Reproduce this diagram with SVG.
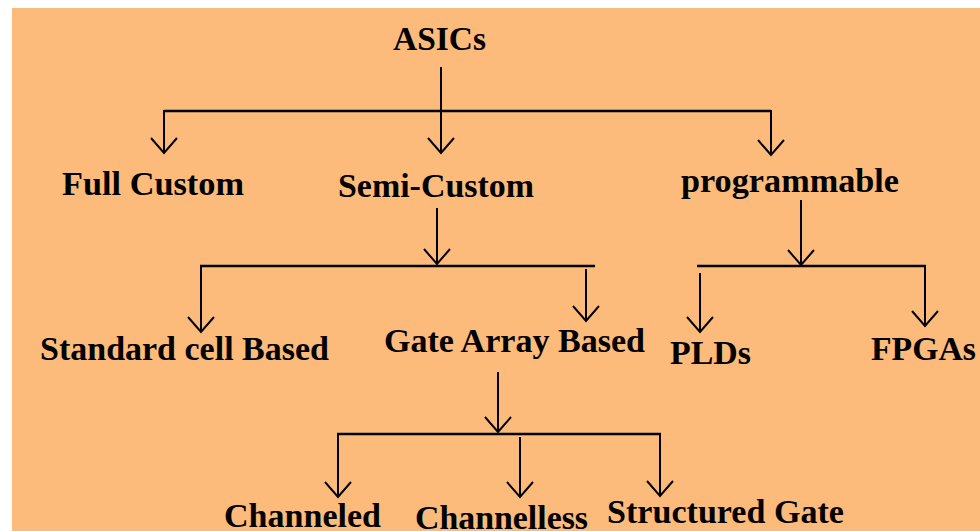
<svg xmlns="http://www.w3.org/2000/svg" width="980" height="531" viewBox="0 0 980 531">
<style>
.t{font-family:"Liberation Serif","Times New Roman",serif;font-weight:bold;font-size:33px;fill:#000}
.h{stroke:#000;stroke-width:2.6;fill:none}
.v{stroke:#000;stroke-width:2;fill:none}
</style>
<defs>
<marker id="ah" markerUnits="userSpaceOnUse" viewBox="-16 -14 18 28" refX="0" refY="0" markerWidth="18" markerHeight="28" orient="auto" overflow="visible">
<path d="M-15,-13 L0,0 L-15,13" stroke="#000" stroke-width="2" fill="none"/>
</marker>
</defs>
<rect x="0" y="0" width="980" height="531" fill="#fff"/>
<rect x="12" y="8" width="968" height="523" fill="#FDBB7B"/>
<g id="connectors">
<line class="v" x1="441" y1="67" x2="441" y2="153" marker-end="url(#ah)"/>
<line class="h" x1="164" y1="111" x2="771" y2="111"/>
<line class="v" x1="164" y1="110" x2="164" y2="153" marker-end="url(#ah)"/>
<line class="v" x1="771" y1="110" x2="771" y2="155" marker-end="url(#ah)"/>
<line class="v" x1="437" y1="208" x2="437" y2="264" marker-end="url(#ah)"/>
<line class="h" x1="200" y1="266" x2="595" y2="266"/>
<line class="v" x1="201" y1="265" x2="201" y2="332" marker-end="url(#ah)"/>
<line class="v" x1="586" y1="269" x2="586" y2="321" marker-end="url(#ah)"/>
<line class="v" x1="801" y1="200" x2="801" y2="265" marker-end="url(#ah)"/>
<line class="h" x1="697" y1="266" x2="926" y2="266"/>
<line class="v" x1="700" y1="273" x2="700" y2="332" marker-end="url(#ah)"/>
<line class="v" x1="925" y1="265" x2="925" y2="326" marker-end="url(#ah)"/>
<line class="v" x1="498" y1="372" x2="498" y2="432" marker-end="url(#ah)"/>
<line class="h" x1="337" y1="434" x2="661" y2="434"/>
<line class="v" x1="338" y1="433" x2="338" y2="497" marker-end="url(#ah)"/>
<line class="v" x1="520" y1="437" x2="520" y2="497" marker-end="url(#ah)"/>
<line class="v" x1="660" y1="433" x2="660" y2="496" marker-end="url(#ah)"/>
</g>
<g id="asics"><text class="t" x="393" y="50" textLength="93" lengthAdjust="spacingAndGlyphs">ASICs</text></g>
<g id="full-custom"><text class="t" x="62" y="195" textLength="182" lengthAdjust="spacingAndGlyphs">Full Custom</text></g>
<g id="semi-custom"><text class="t" x="338" y="197" textLength="196" lengthAdjust="spacingAndGlyphs">Semi-Custom</text></g>
<g id="programmable"><text class="t" x="681" y="192" textLength="218" lengthAdjust="spacingAndGlyphs">programmable</text></g>
<g id="standard-cell"><text class="t" x="40" y="360" textLength="289" lengthAdjust="spacingAndGlyphs">Standard cell Based</text></g>
<g id="gate-array"><text class="t" x="384" y="352" textLength="261" lengthAdjust="spacingAndGlyphs">Gate Array Based</text></g>
<g id="plds"><text class="t" x="670" y="364" textLength="81" lengthAdjust="spacingAndGlyphs">PLDs</text></g>
<g id="fpgas"><text class="t" x="871" y="360" textLength="105" lengthAdjust="spacingAndGlyphs">FPGAs</text></g>
<g id="channeled"><text class="t" x="224" y="527" textLength="157" lengthAdjust="spacingAndGlyphs">Channeled</text></g>
<g id="channelless"><text class="t" x="415" y="529" textLength="173" lengthAdjust="spacingAndGlyphs">Channelless</text></g>
<g id="structured-gate"><text class="t" x="607" y="523" textLength="237" lengthAdjust="spacingAndGlyphs">Structured Gate</text></g>
</svg>
